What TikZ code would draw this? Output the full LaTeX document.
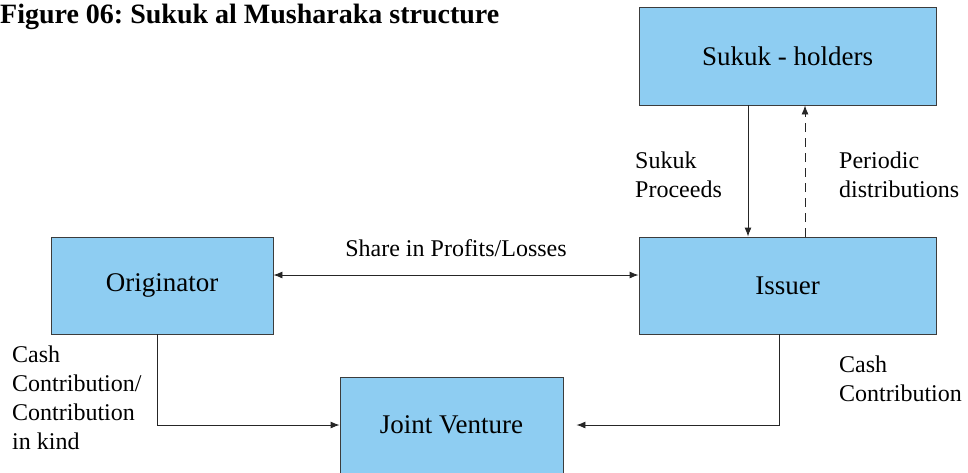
\documentclass[tikz,border=0pt]{standalone}
\usepackage{fontspec}
\setmainfont{Liberation Serif}
\usetikzlibrary{arrows.meta}
\definecolor{boxblue}{RGB}{142,205,242}
\definecolor{edge}{RGB}{60,60,60}
\frenchspacing
\begin{document}
\begin{tikzpicture}[x=1pt,y=-1pt,
  box/.style={draw=edge, line width=0.9pt, fill=boxblue, inner sep=0pt,
    font=\fontsize{27}{32}\selectfont},
  arr/.style={draw=black!85, line width=0.9pt, -{Latex[length=9pt,width=7pt]}},
  lbl/.style={inner sep=0pt, anchor=west, align=left,
    font=\fontsize{24}{29}\selectfont}]
\clip (0,0) rectangle (968,472);
\useasboundingbox (0,0) rectangle (968,472);
\node[anchor=base west, inner sep=0pt, font=\fontsize{28}{32}\selectfont\bfseries] (title) at (0,23) {Figure 06: Sukuk al Musharaka structure};
\node[box, minimum width=297pt, minimum height=98pt] (sh) at (787.5,56) {Sukuk - holders};
\node[box, minimum width=297pt, minimum height=97pt] (is) at (787.5,285.5) {Issuer};
\node[box, minimum width=222pt, minimum height=97pt] (or) at (162,285.5) {Originator};
\node[box, minimum width=223pt, minimum height=96pt] (jv) at (451.5,425) {Joint Venture};
% connectors
\draw[arr] ([xshift=-39.5pt]sh.south) -- ([xshift=-39.5pt]is.north);
\draw[arr, dashed, dash pattern=on 9pt off 6pt] ([xshift=17.5pt]is.north) -- ([xshift=17.5pt]sh.south);
\draw[arr, {Latex[length=9pt,width=7pt]}-{Latex[length=9pt,width=7pt]}] ([yshift=10.5pt]or.east) -- ([yshift=10.5pt]is.west);
\draw[arr] ([xshift=-5pt]or.south) |- (jv.west);
\draw[arr, shorten >=13pt] ([xshift=-8.5pt]is.south) |- (jv.east);
% labels
\node[lbl] (l1) at (635,174.5) {Sukuk\\Proceeds};
\node[lbl] (l2) at (839,174.5) {Periodic\\distributions};
\node[lbl, anchor=center] (l3) at (456,248) {Share in Profits/Losses};
\node[lbl] (l4) at (12,397.5) {Cash\\Contribution/\\Contribution\\in kind};
\node[lbl] (l5) at (839,378.5) {Cash\\Contribution};
\end{tikzpicture}
\end{document}
